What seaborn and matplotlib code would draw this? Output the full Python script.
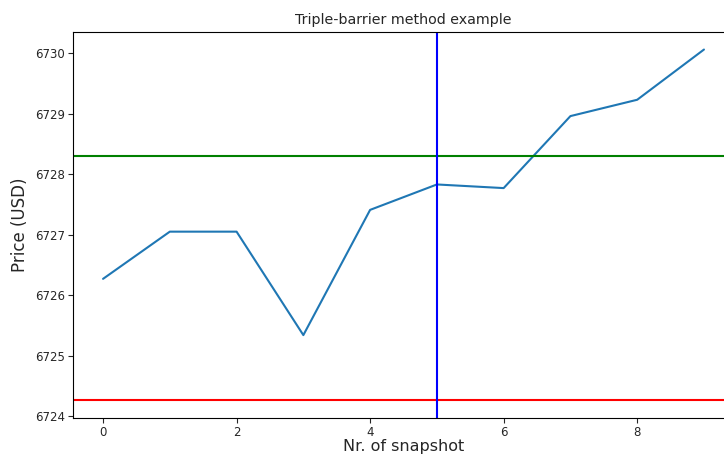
import numpy as np
import pandas as pd
import matplotlib
matplotlib.use("Agg")
import matplotlib.pyplot as plt
import seaborn as sns

snapshots = [0, 1, 2, 3, 4, 5, 6, 7, 8, 9]
prices = [6726.27, 6727.05, 6727.05, 6725.34, 6727.41, 6727.83, 6727.77, 6728.96, 6729.23, 6730.06]
upper_barrier = 6728.30
lower_barrier = 6724.26
vertical_barrier = 5

df = pd.DataFrame({"snapshot": snapshots, "price": prices})

sns.set_style("ticks")
plt.rcParams["font.family"] = ["DejaVu Sans"]

fig = plt.figure(figsize=(7.24, 4.57), dpi=100)
ax = fig.add_axes([73 / 724, 1 - 418 / 457, 661 / 724, 386 / 457])

sns.lineplot(data=df, x="snapshot", y="price", ax=ax, color="#1f77b4", linewidth=1.5)
ax.axhline(upper_barrier, color="g", linewidth=1.5)
ax.axhline(lower_barrier, color="r", linewidth=1.5)
ax.axvline(vertical_barrier, color="b", linewidth=1.5)

ax.set_title("Triple-barrier method example", fontsize=10.3)
ax.set_xlabel("Nr. of snapshot", fontsize=11.5, labelpad=0)
ax.set_ylabel("Price (USD)", fontsize=12)
ax.tick_params(labelsize=8.5, length=3.5, pad=2.5)
ax.ticklabel_format(axis="y", useOffset=False)
for s in ax.spines.values():
    s.set_color("black")

fig.savefig("out.png", dpi=100)
